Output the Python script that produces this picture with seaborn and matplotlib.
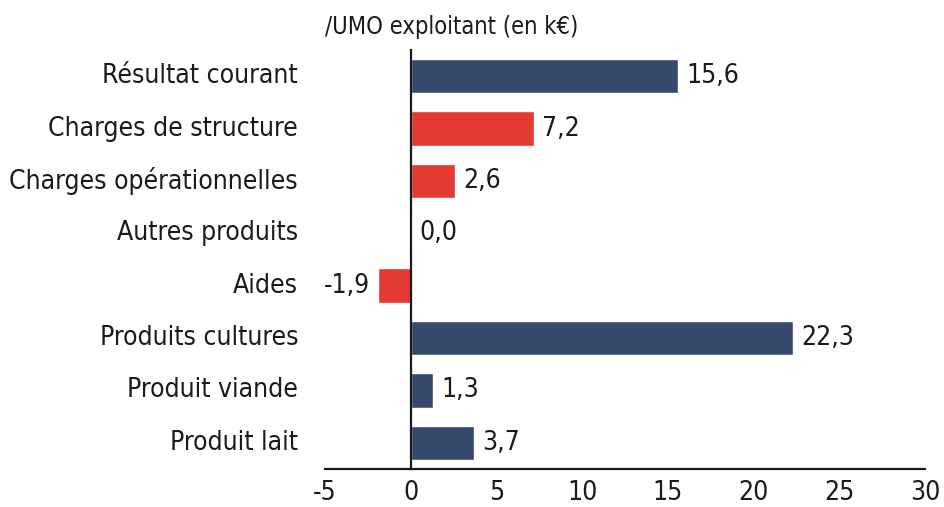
import numpy as np
import pandas as pd
import seaborn as sns
import matplotlib.pyplot as plt
from matplotlib.ticker import FixedLocator

sns.set_style('white')
plt.rcParams['font.family'] = ['DejaVu Sans']
plt.rcParams['font.stretch'] = 'condensed'

categories = ['Résultat courant', 'Charges de structure', 'Charges opérationnelles',
              'Autres produits', 'Aides', 'Produits cultures', 'Produit viande', 'Produit lait']
values = [15.6, 7.2, 2.6, 0.0, -1.9, 22.3, 1.3, 3.7]
groups = ['res', 'charge', 'charge', 'prod', 'charge', 'prod', 'prod', 'prod']
xticks = [-5, 0, 5, 10, 15, 20, 25, 30]

colors = {'res': '#374a6e', 'prod': '#374a6e', 'charge': '#e53a34'}

df = pd.DataFrame({'cat': categories, 'val': values, 'grp': groups})

fig = plt.figure(figsize=(9.44, 5.07), dpi=100)
ax = fig.add_axes([325 / 944, 38 / 507, 600 / 944, 419 / 507])

sns.barplot(data=df, x='val', y='cat', hue='grp', palette=colors, dodge=False,
            width=0.66, saturation=1, legend=False, ax=ax, orient='h')

ax.set_xlim(-5, 30)
ax.set_ylim(len(categories) - 0.5, -0.5)
ax.set_xticks(xticks)
ax.set_xticklabels([str(t) for t in xticks], fontsize=19)
ax.set_xlabel('')
ax.set_ylabel('')

# axes look: y line on zero, ticks between categories
for s in ['top', 'right']:
    ax.spines[s].set_visible(False)
ax.spines['left'].set_position(('data', 0))
ax.spines['left'].set_linewidth(1.6)
ax.spines['bottom'].set_linewidth(1.6)
ax.spines['left'].set_color('#1a1a1a')
ax.spines['bottom'].set_color('#1a1a1a')
ax.set_yticks(range(len(categories)))
ax.set_yticklabels([])
ax.tick_params(axis='y', which='major', length=0)
ax.yaxis.set_minor_locator(FixedLocator(np.arange(-0.5, len(categories), 1.0)))
ax.tick_params(axis='y', which='minor', length=6, width=1.6, direction='out', color='#1a1a1a')
ax.tick_params(axis='x', length=12, width=1.6, direction='inout', pad=2, color='#1a1a1a',
               labelcolor='#1a1a1a')

for i, cat in enumerate(categories):
    ax.text(-0.045, i, cat, transform=ax.get_yaxis_transform(), ha='right', va='center',
            fontsize=19, color='#1a1a1a')

for i, v in enumerate(values):
    txt = f'{v:.1f}'.replace('.', ',')
    if v < 0:
        ax.annotate(txt, (v, i), xytext=(-6, 0), textcoords='offset points',
                    ha='right', va='center', fontsize=19, color='#1a1a1a')
    else:
        ax.annotate(txt, (v, i), xytext=(6, 0), textcoords='offset points',
                    ha='left', va='center', fontsize=19, color='#1a1a1a')

fig.text(325 / 944, 1 - 27 / 507, '/UMO exploitant (en k€)', ha='left', va='center',
         fontsize=17, color='#1a1a1a')

plt.savefig('out.png', dpi=100)
